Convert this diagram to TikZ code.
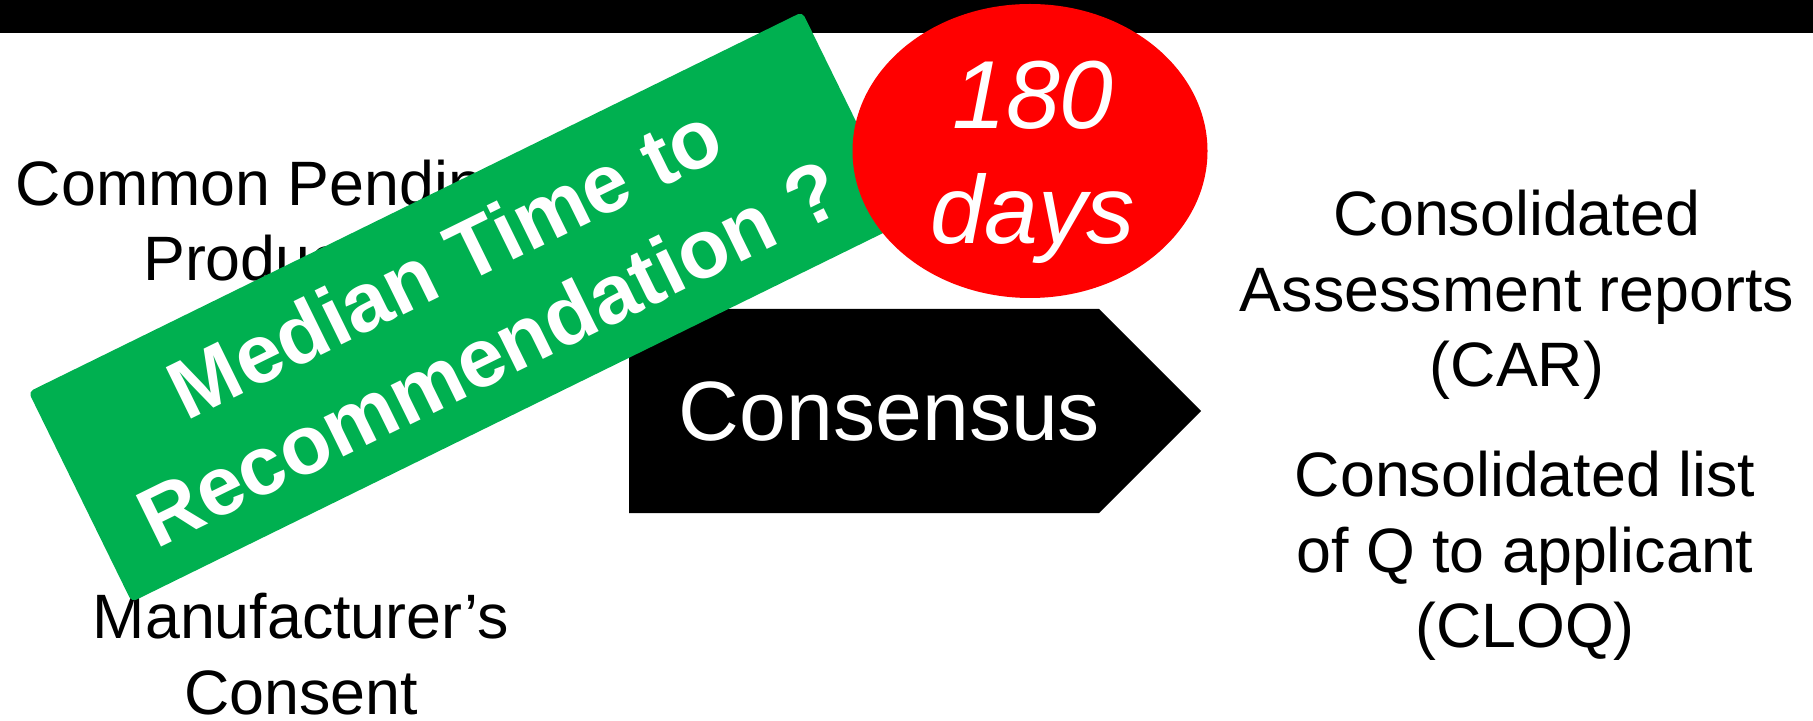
\documentclass[tikz,border=0pt]{standalone}
\usepackage{fontspec}
\setmainfont{Liberation Sans}
\usepackage{xcolor}
\usepackage{tikz}
\usetikzlibrary{shapes,positioning,calc}

\definecolor{bannergreen}{RGB}{0,176,80}
\definecolor{alertred}{RGB}{255,0,0}

\begin{document}
\begin{tikzpicture}[
    sidetext/.style={align=center, inner sep=0pt, font=\fontsize{35.7}{43}\selectfont},
    banner/.style={rectangle, fill=bannergreen, rounded corners=0.1cm, minimum width=17.24cm, minimum height=4.68cm, inner sep=0pt, align=center, text=white, font=\fontsize{47.3}{57.8}\selectfont\bfseries},
    deadline/.style={ellipse, fill=alertred, minimum width=7.1cm, minimum height=5.88cm, inner sep=0pt},
    whitetext/.style={text=white, inner sep=0pt, align=center}
]
\useasboundingbox (0,0) rectangle (36.26,14.4);
\fill (0,13.74) rectangle (36.26,14.4);

% left side
\node[sidetext] (pending) at (5.34,9.99) {Common Pending\\Products};
\node[sidetext] (consent) at (6.02,1.32) {Manufacturer’s\\Consent};

% consensus arrow
\fill (12.58,8.22) -- (21.98,8.22) -- (24.02,6.18) -- (21.98,4.14) -- (12.58,4.14) -- cycle;
\node[whitetext, anchor=base, font=\fontsize{47.9}{57}\selectfont] (consensus) at (17.79,5.58) {Consensus};

% right side
\node[sidetext] (car) at (30.34,8.5) {Consolidated\\Assessment reports\\(CAR)};
\node[sidetext] (cloq) at (30.5,3.28) {Consolidated list\\of Q to applicant\\(CLOQ)};

% overlays
\node[banner, rotate=26.15] (median) at (9.34,8.26) {Median Time to\\Recommendation ?};
\node[deadline] (limit) at (20.6,11.38) {};
\node[whitetext, font=\fontsize{55}{65.2}\selectfont\itshape] (days) at ($(limit.center)+(0.06,-0.23)$) {180\\days};

\end{tikzpicture}
\end{document}
